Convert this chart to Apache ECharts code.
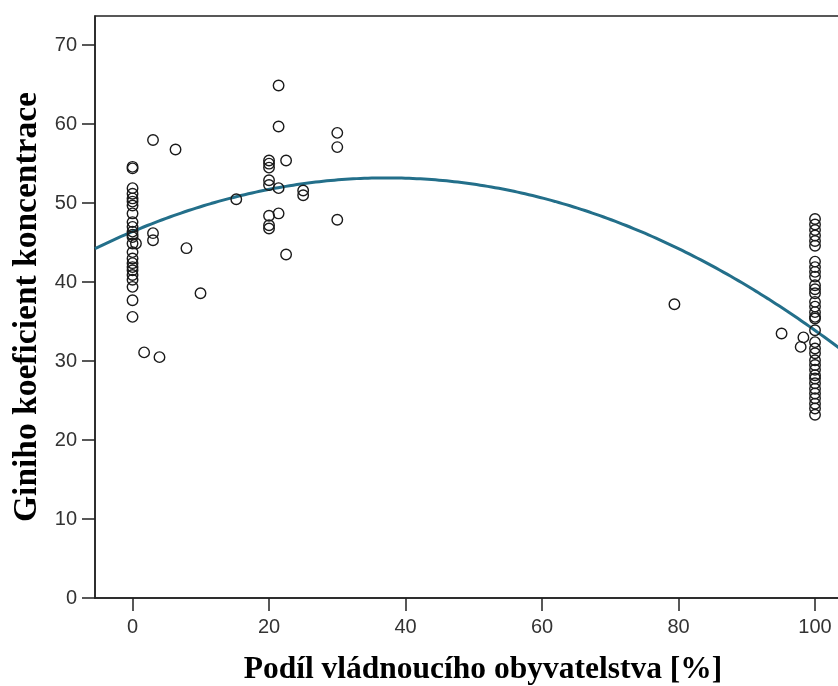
<!DOCTYPE html>
<html>
<head>
<meta charset="utf-8">
<script src="https://cdn.jsdelivr.net/npm/echarts@6/dist/echarts.min.js"></script>
<style>
  html, body { margin: 0; padding: 0; background: #fff; }
  #chart { width: 838px; height: 686px; }
</style>
</head>
<body>
<div id="chart"></div>
<script>
// podíl vládnoucího obyvatelstva [%] -> Giniho koeficient
const xGroup0 = [0, 0, 0, 0, 0, 0, 0, 0, 0, 0, 0, 0, 0, 0.5, 0, 0, 0, 0, 0, 0, 0, 0, 0, 0, 0]
const yGroup0 = [54.6, 54.4, 51.9, 51.2, 50.6, 49.7, 48.7, 47.6, 47.0, 46.4, 45.7, 44.9, 46.0, 44.9, 43.8, 43.0, 42.4, 41.9, 41.5, 40.9, 40.3, 39.4, 37.7, 35.6, 50.2]

const xMid = [1.7, 3.95, 3.0, 6.3, 3.0, 3.0, 7.9, 9.96, 15.2,
  21.4, 21.4, 30, 30, 20, 20, 20, 22.5, 20, 20, 21.4, 25, 25, 21.4, 20, 20, 20, 30, 22.5,
  79.4, 95.1, 98.3, 97.9]
const yMid = [31.1, 30.5, 58.0, 56.8, 46.2, 45.3, 44.3, 38.6, 50.5,
  64.9, 59.7, 58.9, 57.1, 55.4, 55.0, 54.5, 55.4, 52.9, 52.3, 51.9, 51.6, 51.0, 48.7, 48.4, 47.2, 46.8, 47.9, 43.5,
  37.2, 33.5, 33.0, 31.8]

const yGroup100 = [48.0, 47.3, 46.6, 45.9, 45.2, 44.6, 42.6, 41.9, 41.3, 40.7, 39.6, 39.1, 38.6,
  37.5, 36.9, 36.2, 35.6, 35.4, 33.9, 32.4, 31.6, 31.0, 30.1, 29.5, 28.9, 28.2, 27.8, 27.2,
  26.5, 25.9, 25.3, 24.6, 24.0, 23.2]

// kvadratická regresní křivka (koeficienty): a + b*x + c*x^2
const fitCoef = [46.4, 0.3652, -0.004903]

const xTicks = [0, 20, 40, 60, 80, 100]
const yTicks = [0, 10, 20, 30, 40, 50, 60, 70]

const points = []
xGroup0.forEach((x, i) => points.push([x, yGroup0[i]]))
xMid.forEach((x, i) => points.push([x, yMid[i]]))
yGroup100.forEach(y => points.push([100, y]))

const xMin = -5.5
const xMax = 104.1
const fitLine = []
for (let i = 0; i <= 200; i++) {
  const x = xMin + (xMax - xMin) * i / 200
  fitLine.push([x, fitCoef[0] + fitCoef[1] * x + fitCoef[2] * x * x])
}

const tickFont = 'Liberation Sans, Arial, sans-serif'

const chart = echarts.init(document.getElementById('chart'))
chart.setOption({
  animation: false,
  grid: {
    left: 95,
    right: -5,
    top: 16,
    bottom: 88,
    outerBoundsMode: 'none',
    containLabel: false,
    show: true,
    borderColor: '#222',
    borderWidth: 1.5,
    backgroundColor: 'transparent',
  },
  xAxis: {
    type: 'value',
    min: xMin,
    max: xMax,
    name: 'Podíl vládnoucího obyvatelstva [%]',
    nameLocation: 'middle',
    nameGap: 56,
    nameTextStyle: {
      fontFamily: 'Liberation Serif',
      fontWeight: 'bold',
      fontSize: 31.5,
      color: '#000',
      padding: [0, 0, 0, 28],
    },
    axisLine: { onZero: false, lineStyle: { color: '#222', width: 1.5 } },
    axisTick: {
      length: 13,
      lineStyle: { color: '#222', width: 1.5 },
      customValues: xTicks,
    },
    axisLabel: {
      margin: 19,
      fontFamily: tickFont,
      fontSize: 20,
      color: '#333',
      customValues: xTicks,
    },
    splitLine: { show: false },
  },
  yAxis: {
    type: 'value',
    min: 0,
    max: 73.7,
    name: 'Giniho koeficient koncentrace',
    nameLocation: 'middle',
    nameGap: 42,
    nameTextStyle: {
      fontFamily: 'Liberation Serif',
      fontWeight: 'bold',
      fontSize: 33.5,
      color: '#000',
    },
    axisLine: { onZero: false, lineStyle: { color: '#222', width: 1.5 } },
    axisTick: {
      length: 13,
      lineStyle: { color: '#222', width: 1.5 },
      customValues: yTicks,
    },
    axisLabel: {
      margin: 18,
      fontFamily: tickFont,
      fontSize: 20,
      color: '#333',
      customValues: yTicks,
    },
    splitLine: { show: false },
  },
  series: [{
    type: 'scatter',
    symbol: 'circle',
    symbolSize: 10.5,
    itemStyle: {
      color: 'rgba(255,255,255,0)',
      borderColor: '#1a1a1a',
      borderWidth: 1.4,
      opacity: 1,
    },
    data: points,
    z: 3,
  }, {
    type: 'line',
    showSymbol: false,
    smooth: false,
    lineStyle: { color: '#236f8a', width: 3 },
    data: fitLine,
    z: 2,
  }],
})
</script>
</body>
</html>
